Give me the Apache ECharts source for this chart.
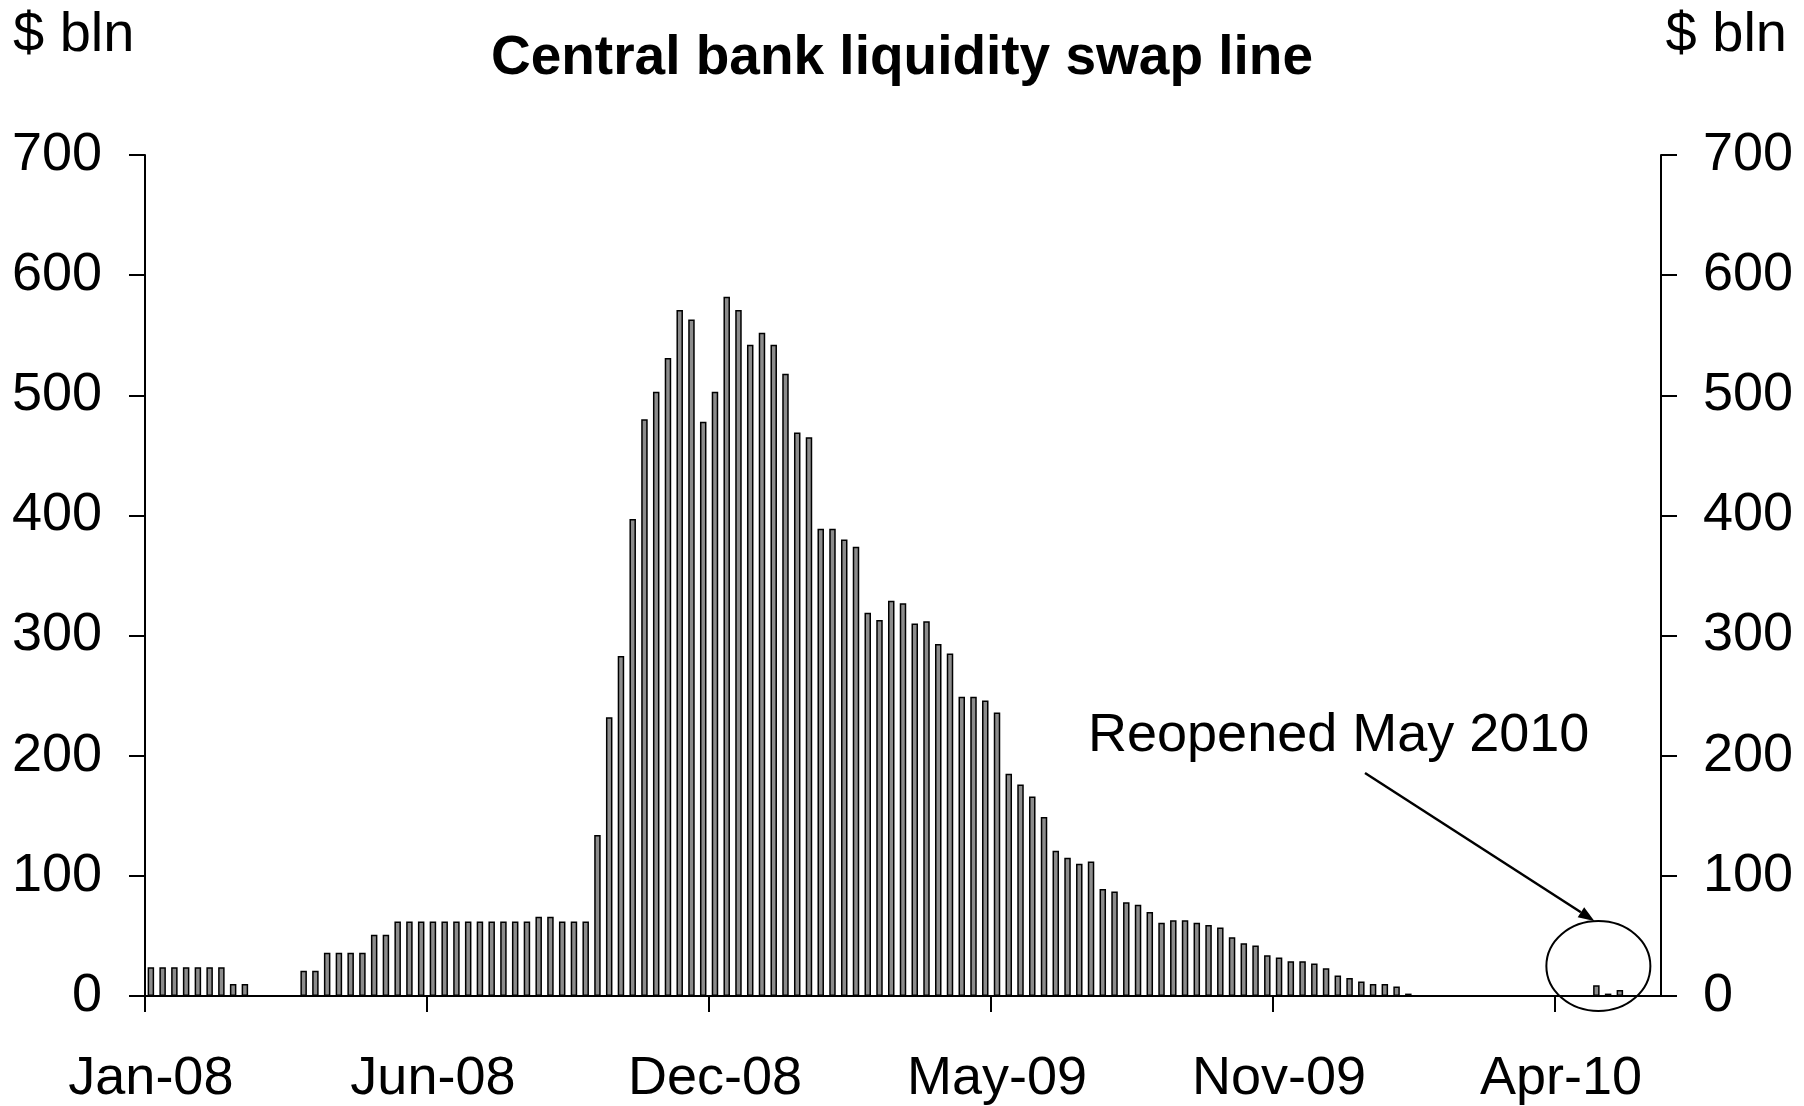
<!DOCTYPE html>
<html>
<head>
<meta charset="utf-8">
<title>Central bank liquidity swap line</title>
<script src="https://cdn.jsdelivr.net/npm/echarts@6/dist/echarts.min.js"></script>
<style>
  html, body { margin: 0; padding: 0; background: #fff; }
  #chart { width: 1804px; height: 1106px; }
</style>
</head>
<body>
<div id="chart"></div>
<script>
// Weekly amounts outstanding under the Fed's central bank liquidity swap lines, $ billion.
// One value per week, starting with the first week of January 2008.
const firstWeek = '2008-01-02';
const swapValues = [
  24, 24, 24, 24, 24, 24, 24, 10, 10, 0,
  0, 0, 0, 21, 21, 36, 36, 36, 36, 51,
  51, 62, 62, 62, 62, 62, 62, 62, 62, 62,
  62, 62, 62, 66, 66, 62, 62, 62, 134, 232,
  283, 397, 480, 503, 531, 571, 563, 478, 503, 582,
  571, 542, 552, 542, 518, 469, 465, 389, 389, 380,
  374, 319, 313, 329, 327, 310, 312, 293, 285, 249,
  249, 246, 236, 185, 176, 166, 149, 121, 115, 110,
  112, 89, 87, 78, 76, 70, 61, 63, 63, 61,
  59, 57, 49, 44, 42, 34, 32, 29, 29, 27,
  23, 17, 15, 12, 10, 10, 8, 2, 0, 0,
  0, 0, 0, 0, 0, 0, 0, 0, 0, 0,
  0, 0, 0, 9, 2, 5, 0, 0, 0
];
// Date labels shown every 24 weeks along the bottom axis
const tickLabels = ['Jan-08', 'Jun-08', 'Dec-08', 'May-09', 'Nov-09', 'Apr-10'];
const weeksPerTick = 24;
const yTicks = { min: 0, max: 700, step: 100 };
const unitLabel = '$ bln';
const noteText = 'Reopened May 2010';
const noteWeeks = [123, 125];   // weeks picked out by the circle

// Week-ending dates used as category names
const weeks = swapValues.map((_, i) => {
  const d = new Date(firstWeek + 'T00:00:00Z');
  d.setUTCDate(d.getUTCDate() + 7 * i);
  return d.toISOString().slice(0, 10);
});
const tickPositions = tickLabels.map((_, i) => i * weeksPerTick);

const FONT = '"Liberation Sans", Arial, Helvetica, sans-serif';
const AXIS = { color: '#000', width: 2 };

const chart = echarts.init(document.getElementById('chart'), null, { renderer: 'canvas' });

const yAxisBase = {
  type: 'value',
  min: yTicks.min,
  max: yTicks.max,
  interval: yTicks.step,
  axisLine: { show: true, lineStyle: AXIS },
  axisTick: { show: true, inside: false, length: 16, lineStyle: AXIS },
  splitLine: { show: false },
  axisLabel: { fontFamily: FONT, fontSize: 54, color: '#000', margin: 43, padding: [4, 0, 0, 0] }
};

chart.setOption({
  animation: false,
  backgroundColor: '#fff',
  textStyle: { fontFamily: FONT },
  title: {
    text: 'Central bank liquidity swap line',
    left: 'center',
    top: 31,
    padding: 0,
    textStyle: { fontFamily: FONT, fontSize: 55, fontWeight: 'bold', color: '#000' }
  },
  grid: { left: 145, right: 143, top: 155, bottom: 105, containLabel: false },
  xAxis: [
    {
      type: 'category',
      data: weeks,
      boundaryGap: true,
      axisLine: { show: true, lineStyle: AXIS },
      axisTick: { show: false },
      splitLine: { show: false },
      axisLabel: {
        interval: weeksPerTick - 1,
        margin: 56,
        fontFamily: FONT,
        fontSize: 54,
        color: '#000',
        formatter: (value, index) => tickLabels[Math.round(index / weeksPerTick)] || ''
      }
    },
    {
      // tick marks on the week boundaries where each date label starts
      type: 'value',
      position: 'bottom',
      min: 0,
      max: weeks.length,
      axisLine: { show: false },
      axisLabel: { show: false },
      splitLine: { show: false },
      axisTick: { show: true, inside: false, length: 16, lineStyle: AXIS, customValues: tickPositions }
    }
  ],
  yAxis: [
    Object.assign({}, yAxisBase, { position: 'left' }),
    Object.assign({}, yAxisBase, { position: 'right', axisLabel: Object.assign({}, yAxisBase.axisLabel, { margin: 42 }) })
  ],
  series: [
    {
      type: 'bar',
      name: 'Swap line',
      xAxisIndex: 0,
      yAxisIndex: 0,
      data: swapValues,
      barWidth: 6.5,
      itemStyle: { color: '#8c8c8c', borderColor: '#000', borderWidth: 1.5 },
      z: 3
    }
  ]
});

// Annotation: circle round the May 2010 weeks with an arrow from the note
const first = chart.convertToPixel({ seriesIndex: 0 }, [noteWeeks[0], 25]);
const cx = first[0] + 2;
const cy = first[1];
const rx = 52, ry = 45;

const arrowStart = [1365, 773];
const arrowEnd = [cx - 4, cy - ry];
const ang = Math.atan2(arrowEnd[1] - arrowStart[1], arrowEnd[0] - arrowStart[0]);
const headLen = 16, headHalf = 6;
const bx = arrowEnd[0] - headLen * Math.cos(ang), by = arrowEnd[1] - headLen * Math.sin(ang);
const head = [
  arrowEnd,
  [bx + headHalf * Math.sin(ang), by - headHalf * Math.cos(ang)],
  [bx - headHalf * Math.sin(ang), by + headHalf * Math.cos(ang)]
];

chart.setOption({
  graphic: [
    { type: 'text', left: 13, top: 8, style: { text: unitLabel, font: '56px ' + FONT, fill: '#000' } },
    { type: 'text', right: 17, top: 8, style: { text: unitLabel, font: '56px ' + FONT, fill: '#000' } },
    { type: 'text', x: 1088, y: 736, style: { text: noteText, font: '54px ' + FONT, fill: '#000', textVerticalAlign: 'middle' } },
    { type: 'line', shape: { x1: arrowStart[0], y1: arrowStart[1], x2: bx, y2: by }, style: { stroke: '#000', lineWidth: 2.5 } },
    { type: 'polygon', shape: { points: head }, style: { fill: '#000' } },
    { type: 'ellipse', shape: { cx: cx, cy: cy, rx: rx, ry: ry }, style: { fill: 'none', stroke: '#000', lineWidth: 2 }, z: 10 }
  ]
});
</script>
</body>
</html>
